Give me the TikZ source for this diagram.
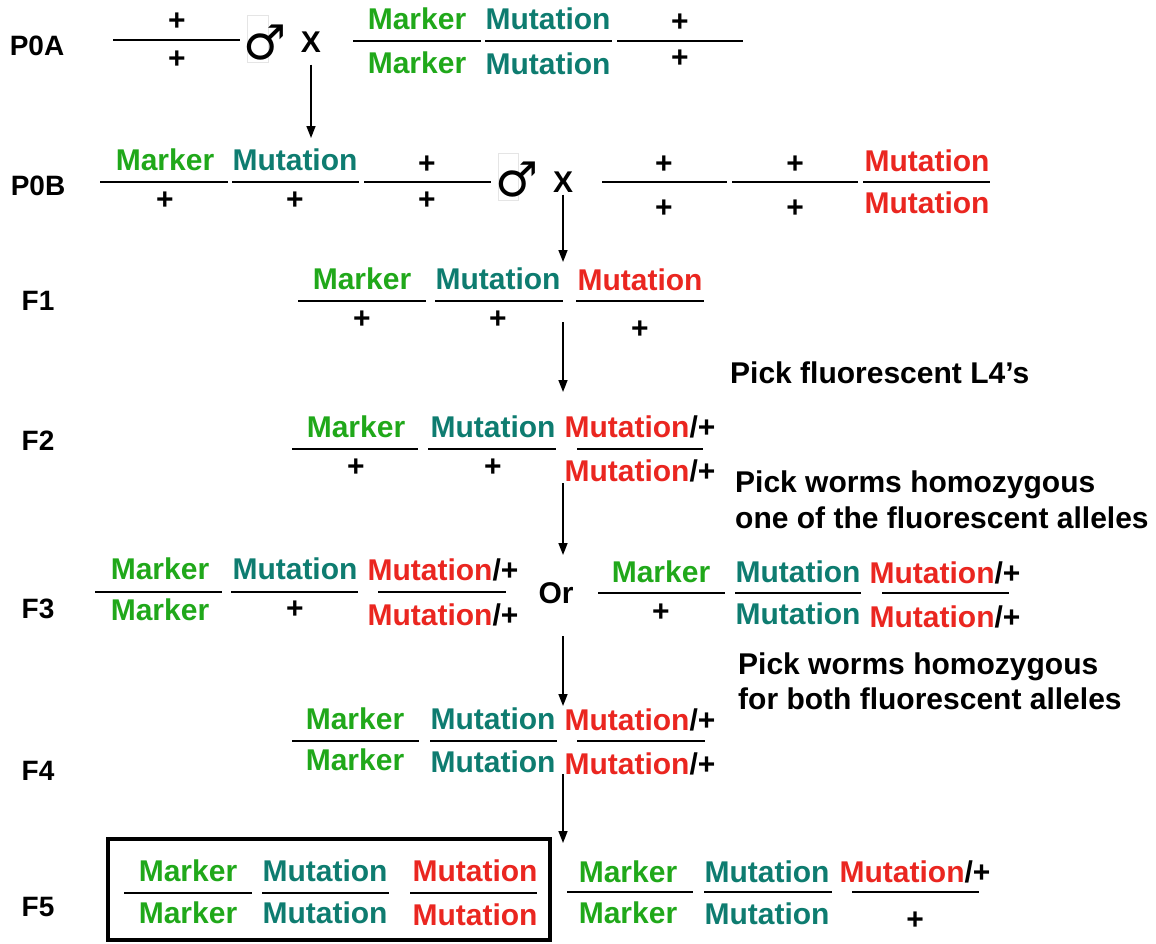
\documentclass[tikz,border=0pt]{standalone}
\usepackage{fontspec}
\setmainfont{Liberation Sans}
\newfontfamily\symfont{DejaVu Sans}
\usetikzlibrary{arrows.meta}
\definecolor{mkgreen}{RGB}{32,168,26}
\definecolor{mutteal}{RGB}{14,124,112}
\definecolor{mutred}{RGB}{234,38,32}

\begin{document}
\begin{tikzpicture}[x=1pt, y=-1pt,
		gen/.style={font=\fontsize{30}{34}\selectfont\bfseries, inner sep=0pt, text height=21pt, text depth=0pt},
		mk/.style={gen, text=mkgreen},
		mt/.style={gen, text=mutteal},
		mr/.style={gen, text=mutred},
		genlabel/.style={gen, font=\fontsize{28}{32}\selectfont\bfseries},
		note/.style={gen, anchor=west},
		bar/.style={line width=2.2pt},
		malebox/.style={draw=black!10, line width=0.6pt},
		male/.style={font=\fontsize{48}{52}\selectfont\symfont, inner sep=0pt},
		arr/.style={line width=1.6pt, -{Triangle[length=12pt,width=9pt]}}]
			\useasboundingbox (0,0) rectangle (1156,943);
			
			% P0A
			\node[genlabel] (lp0a) at (37,45) {P0A};
			\draw[bar] (113,40) -- (240,40);
			\node[gen] (p0a1t) at (177,20) {+};
			\node[gen] (p0a1b) at (177,58) {+};
			\draw[malebox] (247,15) rectangle (268,62);
			\node[male] (p0am) at (265,43) {♂};
			\node[gen] (p0ax) at (311,42) {X};
			\draw[bar] (353,41) -- (481,41);
			\node[mk] (p0a2t) at (417,19) {Marker};
			\node[mk] (p0a2b) at (417,63) {Marker};
			\draw[bar] (485,41) -- (612,41);
			\node[mt] (p0a3t) at (548,19) {Mutation};
			\node[mt] (p0a3b) at (548,64) {Mutation};
			\draw[bar] (617,41) -- (743,41);
			\node[gen] (p0a4t) at (680,21) {+};
			\node[gen] (p0a4b) at (680,57) {+};
			
			\coordinate (a1) at (311,138);
			\draw[arr, shorten <=12pt] (p0ax) -- (a1);
			
			% P0B
			\node[genlabel] (lp0b) at (38,185) {P0B};
			\draw[bar] (100,182) -- (228,182);
			\node[mk] (p0b1t) at (165,160) {Marker};
			\node[gen] (p0b1b) at (165,199) {+};
			\draw[bar] (232,182) -- (359,182);
			\node[mt] (p0b2t) at (295,160) {Mutation};
			\node[gen] (p0b2b) at (295,199) {+};
			\draw[bar] (364,182) -- (491,182);
			\node[gen] (p0b3t) at (427,163) {+};
			\node[gen] (p0b3b) at (427,199) {+};
			\draw[malebox] (498,153) rectangle (518,200);
			\node[male] (p0bm) at (517,180) {♂};
			\node[gen] (p0bx) at (563,182) {X};
			\draw[bar] (602,182) -- (727,182);
			\node[gen] (p0b4t) at (664,163) {+};
			\node[gen] (p0b4b) at (664,207) {+};
			\draw[bar] (732,182) -- (858,182);
			\node[gen] (p0b5t) at (795,163) {+};
			\node[gen] (p0b5b) at (795,207) {+};
			\draw[bar] (863,182) -- (990,182);
			\node[mr] (p0b6t) at (927,161) {Mutation};
			\node[mr] (p0b6b) at (927,203) {Mutation};
			
			\coordinate (a2) at (563,262);
			\draw[arr, shorten <=2pt] (p0bx) -- (a2);
			
			% F1
			\node[genlabel] (lf1) at (38,300) {F1};
			\draw[bar] (298,301) -- (426,301);
			\node[mk] (f11t) at (362,279) {Marker};
			\node[gen] (f11b) at (362,318) {+};
			\draw[bar] (435,301) -- (563,301);
			\node[mt] (f12t) at (498,279) {Mutation};
			\node[gen] (f12b) at (498,318) {+};
			\draw[bar] (576,301) -- (704,301);
			\node[mr] (f13t) at (640,280) {Mutation};
			\node[gen] (f13b) at (640,328) {+};
			
			\coordinate (s3) at (563,322);
			\coordinate (a3) at (563,392);
			\draw[arr] (s3) -- (a3);
			\node[note] (n1) at (730,373) {Pick fluorescent L4’s};
			
			% F2
			\node[genlabel] (lf2) at (38,440) {F2};
			\draw[bar] (292,449) -- (418,449);
			\node[mk] (f21t) at (356,427) {Marker};
			\node[gen] (f21b) at (356,466) {+};
			\draw[bar] (428,449) -- (556,449);
			\node[mt] (f22t) at (493,427) {Mutation};
			\node[gen] (f22b) at (493,466) {+};
			\draw[bar] (577,449) -- (703,449);
			\node[gen] (f23t) at (640,427) {\textcolor{mutred}{Mutation}/+};
			\node[gen] (f23b) at (640,471) {\textcolor{mutred}{Mutation}/+};
			
			\coordinate (s4) at (563,483);
			\coordinate (a4) at (563,555);
			\draw[arr] (s4) -- (a4);
			\node[note] (n2) at (735,482) {Pick worms homozygous};
			\node[note] (n3) at (735,518) {one of the fluorescent alleles};
			
			% F3
			\node[genlabel] (lf3) at (38,608) {F3};
			\draw[bar] (95,592) -- (222,592);
			\node[mk] (f31t) at (160,569) {Marker};
			\node[mk] (f31b) at (160,610) {Marker};
			\draw[bar] (231,592) -- (358,592);
			\node[mt] (f32t) at (295,569) {Mutation};
			\node[gen] (f32b) at (295,608) {+};
			\draw[bar] (378,592) -- (506,592);
			\node[gen] (f33t) at (443,570) {\textcolor{mutred}{Mutation}/+};
			\node[gen] (f33b) at (443,615) {\textcolor{mutred}{Mutation}/+};
			\node[gen] (or) at (556,593) {Or};
			\draw[bar] (598,593) -- (725,593);
			\node[mk] (f34t) at (661,572) {Marker};
			\node[gen] (f34b) at (661,611) {+};
			\draw[bar] (735,593) -- (861,593);
			\node[mt] (f35t) at (798,572) {Mutation};
			\node[mt] (f35b) at (798,614) {Mutation};
			\draw[bar] (882,593) -- (1009,593);
			\node[gen] (f36t) at (945,573) {\textcolor{mutred}{Mutation}/+};
			\node[gen] (f36b) at (945,617) {\textcolor{mutred}{Mutation}/+};
			
			\coordinate (s5) at (563,636);
			\coordinate (a5) at (563,706);
			\draw[arr] (s5) -- (a5);
			\node[note] (n4) at (738,664) {Pick worms homozygous};
			\node[note] (n5) at (738,699) {for both fluorescent alleles};
			
			% F4
			\node[genlabel] (lf4) at (38,770) {F4};
			\draw[bar] (292,741) -- (419,741);
			\node[mk] (f41t) at (355,719) {Marker};
			\node[mk] (f41b) at (355,760) {Marker};
			\draw[bar] (430,741) -- (557,741);
			\node[mt] (f42t) at (493,719) {Mutation};
			\node[mt] (f42b) at (493,762) {Mutation};
			\draw[bar] (577,741) -- (705,741);
			\node[gen] (f43t) at (640,720) {\textcolor{mutred}{Mutation}/+};
			\node[gen] (f43b) at (640,764) {\textcolor{mutred}{Mutation}/+};
			
			\coordinate (s6) at (563,774);
			\coordinate (a6) at (563,843);
			\draw[arr] (s6) -- (a6);
			
			% F5
			\node[genlabel] (lf5) at (38,906) {F5};
			\draw[line width=4pt] (108,839) rectangle (550,940);
			\draw[bar] (124,893) -- (252,893);
			\node[mk] (f51t) at (188,871) {Marker};
			\node[mk] (f51b) at (188,913) {Marker};
			\draw[bar] (262,893) -- (389,893);
			\node[mt] (f52t) at (325,871) {Mutation};
			\node[mt] (f52b) at (325,913) {Mutation};
			\draw[bar] (410,893) -- (537,893);
			\node[mr] (f53t) at (475,871) {Mutation};
			\node[mr] (f53b) at (475,915) {Mutation};
			\draw[bar] (567,892) -- (693,892);
			\node[mk] (f54t) at (628,872) {Marker};
			\node[mk] (f54b) at (628,913) {Marker};
			\draw[bar] (704,892) -- (832,892);
			\node[mt] (f55t) at (767,872) {Mutation};
			\node[mt] (f55b) at (767,914) {Mutation};
			\draw[bar] (852,892) -- (979,892);
			\node[gen] (f56t) at (915,872) {\textcolor{mutred}{Mutation}/+};
			\node[gen] (f56b) at (915,919) {+};
		\end{tikzpicture}
\end{document}
